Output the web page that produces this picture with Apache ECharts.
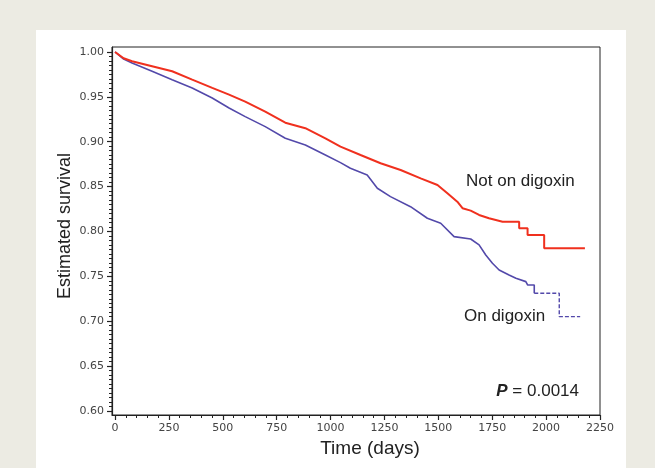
<!DOCTYPE html>
<html>
<head>
<meta charset="utf-8">
<script src="https://cdn.jsdelivr.net/npm/echarts@6/dist/echarts.min.js"></script>
<style>
  html, body { margin: 0; padding: 0; background: #ecebe3; }
  #chart { width: 655px; height: 468px; }
</style>
</head>
<body>
<div id="chart"></div>
<script>
// ---- data ----
var xTickLabels = [0, 250, 500, 750, 1000, 1250, 1500, 1750, 2000, 2250];
var yTickLabels = [0.60, 0.65, 0.70, 0.75, 0.80, 0.85, 0.90, 0.95, 1.00];

var notOnTime = [0, 40, 79, 172, 265, 358, 451, 529, 604, 697, 790, 883, 976, 1046, 1139, 1232, 1325, 1418, 1496, 1542, 1588, 1612, 1650, 1689, 1735, 1798, 1875, 1875, 1914, 1914, 1991, 1991, 2180];
var notOnSurv = [1.0, 0.9930, 0.9896, 0.9841, 0.9785, 0.9691, 0.9599, 0.9524, 0.9446, 0.9335, 0.9212, 0.9150, 0.9038, 0.8945, 0.8852, 0.8760, 0.8685, 0.8592, 0.8518, 0.8426, 0.8332, 0.8259, 0.8232, 0.8184, 0.8147, 0.8109, 0.8109, 0.8036, 0.8036, 0.7961, 0.7961, 0.7813, 0.7813];

var onTime = [0, 40, 79, 172, 265, 358, 451, 529, 604, 697, 790, 883, 976, 1046, 1092, 1170, 1217, 1278, 1371, 1449, 1511, 1573, 1650, 1689, 1720, 1751, 1782, 1828, 1860, 1906, 1914, 1945, 1945];
var onSurv = [1.0, 0.9920, 0.9877, 0.9785, 0.9691, 0.9599, 0.9487, 0.9376, 0.9279, 0.9168, 0.9038, 0.8964, 0.8852, 0.8767, 0.8704, 0.8630, 0.8481, 0.8388, 0.8276, 0.8147, 0.8091, 0.7942, 0.7916, 0.7850, 0.7738, 0.7646, 0.7571, 0.7515, 0.7479, 0.7441, 0.7404, 0.7404, 0.7311];

var onTailTime = [1945, 2061, 2061, 2158];
var onTailSurv = [0.7311, 0.7311, 0.7051, 0.7051];

var labelNotOn = 'Not on digoxin';
var labelOn = 'On digoxin';
var pValue = '0.0014';

// ---- helpers ----
function pairs(xs, ys) { return xs.map(function (x, i) { return [x, ys[i]]; }); }
function steps(from, to, step) {
  var out = [];
  for (var v = from; v <= to + step / 2; v += step) out.push(Math.round(v * 10000) / 10000);
  return out;
}
var xMinor = steps(0, 2250, 50);
var yMinor = steps(0.60, 1.00, 0.005);

var tickFont = { fontFamily: 'DejaVu Sans', fontSize: 11, color: '#444' };
var textFont = '"Liberation Sans", Arial, sans-serif';

var chart = echarts.init(document.getElementById('chart'), null, { renderer: 'canvas' });
chart.setOption({
  backgroundColor: '#ecebe3',
  animation: false,
  graphic: [
    { type: 'rect', z: -100, shape: { x: 36, y: 30, width: 590, height: 440 }, style: { fill: '#ffffff' } },
    { type: 'text', z: 100, x: 466, y: 181,
      style: { text: labelNotOn, font: '17px ' + textFont, fill: '#222', textAlign: 'left', textVerticalAlign: 'middle' } },
    { type: 'text', z: 100, x: 464, y: 316,
      style: { text: labelOn, font: '17px ' + textFont, fill: '#222', textAlign: 'left', textVerticalAlign: 'middle' } },
    { type: 'text', z: 100, x: 579, y: 391,
      style: {
        text: '{p|P} = ' + pValue,
        font: '17px ' + textFont, fill: '#222', textAlign: 'right', textVerticalAlign: 'middle',
        rich: { p: { fontStyle: 'italic', fontWeight: 'bold', fontSize: 17, fontFamily: textFont, fill: '#222' } }
      } }
  ],
  grid: {
    left: 112, top: 47, width: 488, height: 368,
    show: true, borderColor: '#222', borderWidth: 1, backgroundColor: 'transparent',
    outerBoundsMode: 'none', containLabel: false
  },
  xAxis: [
    {
      type: 'value', min: -14, max: 2250, position: 'bottom',
      name: 'Time (days)', nameLocation: 'middle', nameGap: 24, nameMoveOverlap: false,
      nameTextStyle: { fontFamily: textFont, fontSize: 19, color: '#222', padding: [0, 0, 0, 28] },
      axisLine: { show: true, onZero: false, lineStyle: { color: '#222', width: 1.2 } },
      axisTick: { show: true, inside: false, length: 5, customValues: xTickLabels, lineStyle: { color: '#222', width: 1.2 } },
      axisLabel: { show: true, margin: 8, customValues: xTickLabels, formatter: function (v) { return String(v); },
        fontFamily: tickFont.fontFamily, fontSize: tickFont.fontSize, color: tickFont.color },
      splitLine: { show: false }
    },
    {
      type: 'value', min: -14, max: 2250, position: 'bottom',
      axisLine: { show: false, onZero: false },
      axisTick: { show: true, inside: false, length: 3, customValues: xMinor, lineStyle: { color: '#222', width: 1 } },
      axisLabel: { show: false },
      splitLine: { show: false }
    }
  ],
  yAxis: [
    {
      type: 'value', min: 0.5955, max: 1.0055, position: 'left',
      name: 'Estimated survival', nameLocation: 'middle', nameGap: 38, nameRotate: 90, nameMoveOverlap: false,
      nameTextStyle: { fontFamily: textFont, fontSize: 18, color: '#222', padding: [0, 0, 0, 10] },
      axisLine: { show: true, onZero: false, lineStyle: { color: '#222', width: 1.2 } },
      axisTick: { show: true, inside: false, length: 5, customValues: yTickLabels, lineStyle: { color: '#222', width: 1.2 } },
      axisLabel: { show: true, margin: 8, customValues: yTickLabels, formatter: function (v) { return v.toFixed(2); },
        fontFamily: tickFont.fontFamily, fontSize: tickFont.fontSize, color: tickFont.color },
      splitLine: { show: false }
    },
    {
      type: 'value', min: 0.5955, max: 1.0055, position: 'left',
      axisLine: { show: false, onZero: false },
      axisTick: { show: true, inside: false, length: 3, customValues: yMinor, lineStyle: { color: '#222', width: 1 } },
      axisLabel: { show: false },
      splitLine: { show: false }
    }
  ],
  series: [
    {
      name: labelNotOn, type: 'line', xAxisIndex: 0, yAxisIndex: 0,
      data: pairs(notOnTime, notOnSurv), showSymbol: false, symbol: 'none',
      lineStyle: { color: '#f0301e', width: 2 }, z: 5
    },
    {
      name: labelOn, type: 'line', xAxisIndex: 0, yAxisIndex: 0,
      data: pairs(onTime, onSurv), showSymbol: false, symbol: 'none',
      lineStyle: { color: '#5349aa', width: 1.6 }, z: 4
    },
    {
      name: labelOn + ' (tail)', type: 'line', xAxisIndex: 0, yAxisIndex: 0,
      data: pairs(onTailTime, onTailSurv), showSymbol: false, symbol: 'none',
      lineStyle: { color: '#5349aa', width: 1.4, type: [4, 2] }, z: 4
    }
  ]
});
</script>
</body>
</html>
